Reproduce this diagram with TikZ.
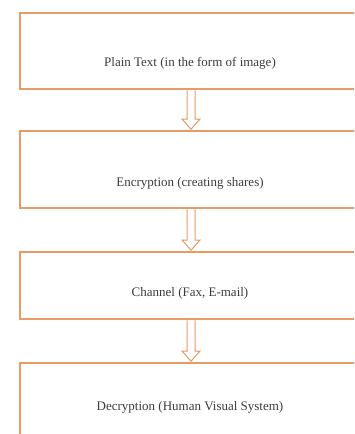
\documentclass[tikz,border=0pt]{standalone}
\usepackage{fontspec}
\setmainfont{Liberation Serif}
\usetikzlibrary{calc}
\definecolor{boxorange}{RGB}{232,155,100}
\definecolor{txtgray}{RGB}{60,60,60}
\tikzset{
  stagebox/.style={draw=boxorange, line width=1.6pt, fill=white, rectangle, minimum width=342pt, inner sep=0pt, anchor=north west},
  stagetext/.style={text=txtgray, font=\fontsize{13}{15}\selectfont, inner sep=0pt},
  blockarrow/.style={draw=boxorange, line width=1pt, fill=white, line join=miter}
}
\begin{document}
\begin{tikzpicture}[x=1pt,y=-1pt]
\useasboundingbox (0,0) rectangle (354,434);
\clip (0,0) rectangle (354,434);
\fill[white] (0,0) rectangle (354,434);
\node[stagebox, minimum height=76pt] (b1) at (19,12) {};
\node[stagebox, minimum height=77pt] (b2) at (19,130) {};
\node[stagebox, minimum height=67pt] (b3) at (19,251) {};
\node[stagebox, minimum height=85pt] (b4) at (19,362) {};
\node[stagetext] (t1) at (190,63) {Plain Text (in the form of image)};
\node[stagetext] (t2) at (190,183) {Encryption (creating shares)};
\node[stagetext] (t3) at (190,293) {Channel (Fax, E-mail)};
\node[stagetext] (t4) at (190,407) {Decryption (Human Visual System)};
\foreach \a/\b in {b1/b2, b2/b3, b3/b4}{
  \coordinate (s) at ($(\a.south west)+(172,0)$);
  \coordinate (e) at ($(\b.north west)+(172,0)$);
  \draw[blockarrow] ($(s)+(-4,0.8)$) -- ($(e)+(-4,-11)$) -- ($(e)+(-9,-11)$) -- ($(e)+(0,-0.8)$)
     -- ($(e)+(9,-11)$) -- ($(e)+(4,-11)$) -- ($(s)+(4,0.8)$);
}
\end{tikzpicture}
\end{document}
